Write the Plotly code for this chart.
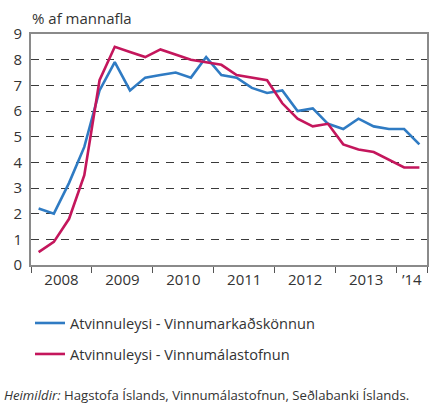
import plotly.graph_objects as go

quarters = [f"{y}Q{q}" for y in range(2008, 2015) for q in range(1, 5)][:26]
vmk = [2.2, 2.0, 3.2, 4.6, 6.8, 7.9, 6.8, 7.3, 7.4, 7.5, 7.3, 8.1,
       7.4, 7.3, 6.9, 6.7, 6.8, 6.0, 6.1, 5.5, 5.3, 5.7, 5.4, 5.3, 5.3, 4.7]
vms = [0.5, 0.9, 1.8, 3.5, 7.2, 8.5, 8.3, 8.1, 8.4, 8.2, 8.0, 7.9,
       7.8, 7.4, 7.3, 7.2, 6.3, 5.7, 5.4, 5.5, 4.7, 4.5, 4.4, 4.1, 3.8, 3.8]
year_labels = ["2008", "2009", "2010", "2011", "2012", "2013", "\u201914"]
y_ticks = list(range(0, 10))

xpos = [i + 0.5 for i in range(len(quarters))]
label_pos = [2, 6, 10, 14, 18, 22, 25]
year_bounds = [0, 4, 8, 12, 16, 20, 24, 26]

FONT = "Open Sans"
BLUE = "#2f7bc3"
RED = "#c4165c"
TXT = "#333333"

fig = go.Figure()
fig.add_trace(go.Scatter(x=xpos, y=vmk, mode="lines", name="Atvinnuleysi - Vinnumarkaðskönnun",
                         legendgroup="a", line=dict(color=BLUE, width=2.6)))
fig.add_trace(go.Scatter(x=xpos, y=vms, mode="lines", name="Atvinnuleysi - Vinnumálastofnun",
                         legendgroup="b", line=dict(color=RED, width=2.6)))

fig.update_layout(
    width=434, height=403,
    margin=dict(l=31, r=7, t=34, b=138, autoexpand=False),
    paper_bgcolor="white", plot_bgcolor="white",
    font=dict(family=FONT, size=14, color=TXT),
    showlegend=True,
    legend=dict(x=30 / 434, y=1 - 307 / 403, xanchor="left", yanchor="top",
                xref="container", yref="container",
                font=dict(size=14.6, color=TXT),
                tracegroupgap=9, itemwidth=30, bgcolor="rgba(0,0,0,0)"),
    xaxis=dict(range=[0, 26], tickmode="array", tickvals=label_pos, ticktext=year_labels,
               ticks="", showgrid=False, zeroline=False, automargin=False,
               showline=True, linecolor="#8a8a8a", linewidth=1.6, mirror=True,
               tickfont=dict(size=15, color=TXT),
               minor=dict(tickmode="array", tickvals=year_bounds, ticks="outside",
                          ticklen=6, tickcolor="#555555", tickwidth=1.3, showgrid=False)),
    yaxis=dict(range=[0, 9], tickmode="array", tickvals=y_ticks, ticks="",
               showgrid=True, gridcolor="#3a3a3a", gridwidth=1.3, griddash="8px,7px",
               zeroline=False, showline=True, linecolor="#8a8a8a", linewidth=1.6, mirror=True,
               automargin=False,
               ticklabelstandoff=4, tickfont=dict(size=15, color=TXT)),
)

fig.add_annotation(text="% af mannafla", xref="paper", yref="paper", x=0, y=1,
                   xanchor="left", yanchor="bottom", yshift=4, xshift=-1, showarrow=False,
                   font=dict(size=15, color=TXT))
fig.add_annotation(text="<i>Heimildir:</i> Hagstofa Íslands, Vinnumálastofnun, Seðlabanki Íslands.",
                   xref="paper", yref="paper", x=0, y=0, xanchor="left", yanchor="middle",
                   xshift=-29, yshift=-130, showarrow=False,
                   font=dict(size=13.2, color=TXT))

fig.write_html("out.html", config={"displayModeBar": False},
               post_script="document.body.style.margin='0';document.body.style.padding='0';")
